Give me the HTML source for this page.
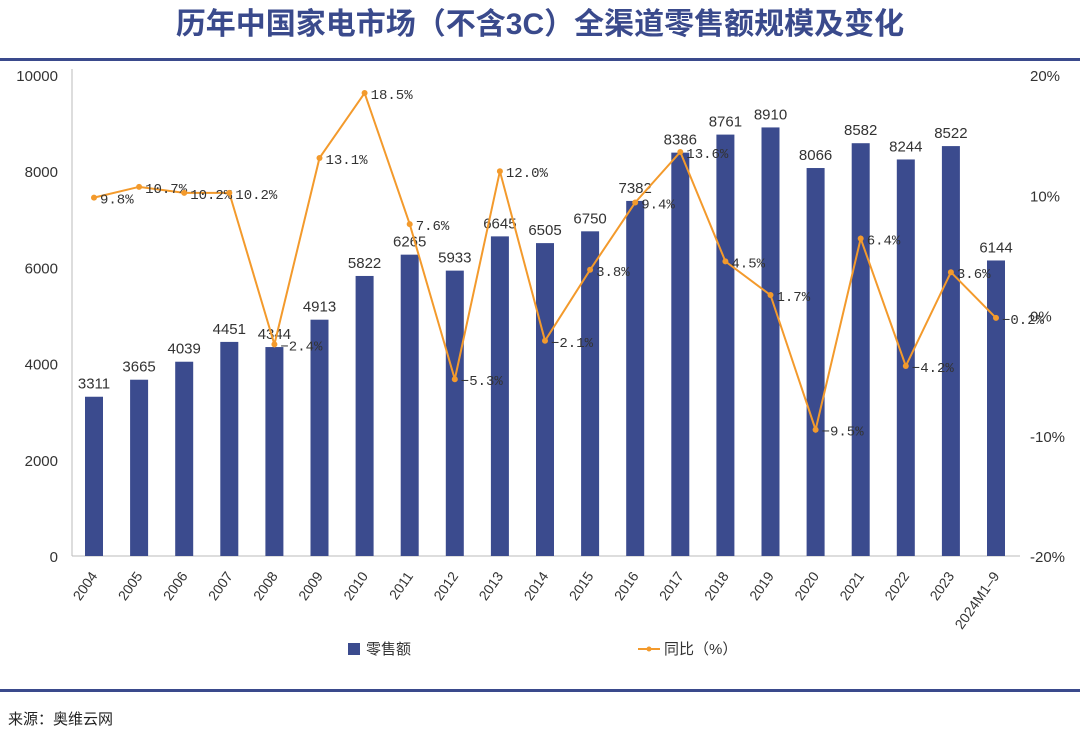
<!DOCTYPE html>
<html><head><meta charset="utf-8"><style>
body{margin:0;width:1080px;height:740px;background:#fff;overflow:hidden;font-family:"Liberation Sans","Noto Sans CJK SC",sans-serif}
svg text{font-family:"Liberation Sans","Noto Sans CJK SC",sans-serif}
svg text.mono{font-family:"Liberation Mono","DejaVu Sans Mono",monospace}
</style></head><body>
<svg id="c" width="1080" height="740">
<text x="540" y="34" text-anchor="middle" font-size="30" font-weight="bold" fill="#3a4a8c">历年中国家电市场（不含3C）全渠道零售额规模及变化</text>
<rect x="0" y="58" width="1080" height="3" fill="#3a4a8c"/>
<rect x="0" y="689" width="1080" height="3" fill="#3a4a8c"/>
<text x="8" y="724" font-size="15" fill="#222">来源：奥维云网</text>
<g id="plot"></g>
<rect x="348" y="643" width="12" height="12" fill="#3b4b8e"/>
<text x="366" y="654" font-size="15" fill="#333">零售额</text>
<line x1="638" y1="649" x2="660" y2="649" stroke="#f39a2c" stroke-width="2"/>
<circle cx="649" cy="649" r="2.5" fill="#f39a2c"/>
<text x="664" y="654" font-size="15" fill="#333">同比（%）</text>
</svg>
<script>
const categories=["2004","2005","2006","2007","2008","2009","2010","2011","2012","2013","2014","2015","2016","2017","2018","2019","2020","2021","2022","2023","2024M1-9"];
const sales=[3311,3665,4039,4451,4344,4913,5822,6265,5933,6645,6505,6750,7382,8386,8761,8910,8066,8582,8244,8522,6144];
const growth=[9.8,10.7,10.2,10.2,-2.4,13.1,18.5,7.6,-5.3,12.0,-2.1,3.8,9.4,13.6,4.5,1.7,-9.5,6.4,-4.2,3.6,-0.2];
const leftTicks=[0,2000,4000,6000,8000,10000];
const rightTicks=[-20,-10,0,10,20];
const NS="http://www.w3.org/2000/svg",g=document.getElementById('plot');
const X0=72,X1=1020,Y0=556,Y1=75;
const xc=i=>94+i*45.1;
const yL=v=>Y0-(v/10000)*(Y0-Y1);
const yR=p=>Y0-((p+20)/40)*(Y0-Y1);
function mk(t,a){const e=document.createElementNS(NS,t);for(const k in a)e.setAttribute(k,a[k]);g.appendChild(e);return e;}
let e;
e=mk('line',{x1:X0,y1:Y1-6,x2:X0,y2:Y0,stroke:'#bbb'});


e=mk('line',{x1:X0,y1:Y0,x2:X1,y2:Y0,stroke:'#bbb'});


leftTicks.forEach(v=>{e=mk('text',{x:58,y:yL(v)+6,'text-anchor':'end','font-size':15,fill:'#333'});e.textContent=v;

});
rightTicks.forEach(v=>{e=mk('text',{x:1030,y:yR(v)+6,'font-size':15,fill:'#333'});e.textContent=v+'%';

});
categories.forEach((c,i)=>{
e=mk('rect',{x:xc(i)-9,y:yL(sales[i]),width:18,height:Y0-yL(sales[i]),fill:'#3b4b8e'});


e=mk('text',{x:xc(i),y:yL(sales[i])-8,'text-anchor':'middle','font-size':15,fill:'#333'});e.textContent=sales[i];


const tx=xc(i)+4,ty=Y0+20;
e=mk('text',{x:tx,y:ty,'text-anchor':'end','font-size':14,fill:'#333',transform:`rotate(-55 ${tx} ${ty})`});e.textContent=c.replace('-','–');


});
e=mk('polyline',{points:growth.map((p,i)=>xc(i)+','+yR(p)).join(' '),fill:'none',stroke:'#f39a2c','stroke-width':2});


growth.forEach((p,i)=>{
e=mk('circle',{cx:xc(i),cy:yR(p),r:3,fill:'#f39a2c'});


e=mk('text',{x:xc(i)+6,y:yR(p)+6,'font-size':14,fill:'#333','class':'mono'});e.textContent=(p<0?'−'+(-p).toFixed(1):p.toFixed(1))+'%';


});
</script>
</body></html>
